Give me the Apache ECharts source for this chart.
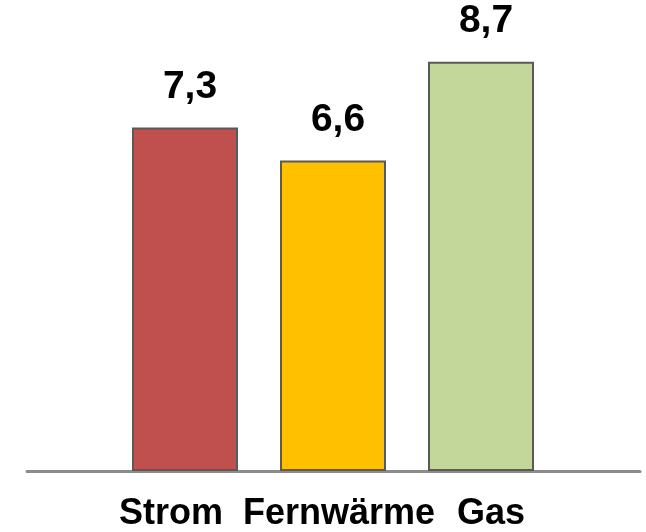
<!DOCTYPE html>
<html>
<head>
<meta charset="utf-8">
<script src="https://cdn.jsdelivr.net/npm/echarts@6/dist/echarts.min.js"></script>
<style>
  html, body { margin: 0; padding: 0; background: #ffffff; }
  #chart { width: 646px; height: 532px; }
</style>
</head>
<body>
<div id="chart"></div>
<script>
// Energy carriers and their values
const categories = ['Strom', 'Fernwärme', 'Gas'];
const values = [7.3, 6.6, 8.7];
const barColors = ['#C0504D', '#FFC000', '#C4D79B'];
// small horizontal nudges for the category captions
const labelShift = [-14, 6, 10];

const FONT = '"Liberation Sans", Arial, sans-serif';

const chart = echarts.init(document.getElementById('chart'), null, { renderer: 'canvas' });

const catData = categories.map((name, i) => {
  const s = labelShift[i];
  return {
    value: name,
    textStyle: { padding: s >= 0 ? [0, 0, 0, 2 * s] : [0, -2 * s, 0, 0] }
  };
});

chart.setOption({
  animation: false,
  backgroundColor: '#ffffff',
  grid: [
    // wide grid that only carries the baseline
    { left: 27, right: 6, top: 0.5, bottom: 60.5 },
    // grid holding the bars
    { left: 111, right: 91, top: 0.5, bottom: 60.5 }
  ],
  xAxis: [
    {
      gridIndex: 0, type: 'value', min: 0, max: 1,
      axisLine: { show: true, lineStyle: { color: '#8C8C8C', width: 3 } },
      axisTick: { show: false }, axisLabel: { show: false }, splitLine: { show: false }
    },
    {
      gridIndex: 1, type: 'category', data: catData,
      axisLine: { show: false }, axisTick: { show: false },
      axisLabel: {
        margin: 25, color: '#000000', fontFamily: FONT,
        fontWeight: 'bold', fontSize: 36, interval: 0
      }
    }
  ],
  yAxis: [
    { gridIndex: 0, type: 'value', min: 0, max: 1, show: false },
    { gridIndex: 1, type: 'value', min: 0, max: 10, show: false }
  ],
  series: [
    {
      type: 'bar',
      xAxisIndex: 1, yAxisIndex: 1,
      barWidth: 106,
      z: 1,
      data: values.map((v, i) => ({
        value: v,
        itemStyle: { color: barColors[i], borderColor: '#595959', borderWidth: 2 }
      })),
      label: {
        show: true, position: 'top', distance: 21, offset: [5, 0],
        color: '#000000', fontFamily: FONT, fontWeight: 'bold', fontSize: 39,
        formatter: p => String(p.value).replace('.', ',')
      }
    }
  ]
});
</script>
</body>
</html>
